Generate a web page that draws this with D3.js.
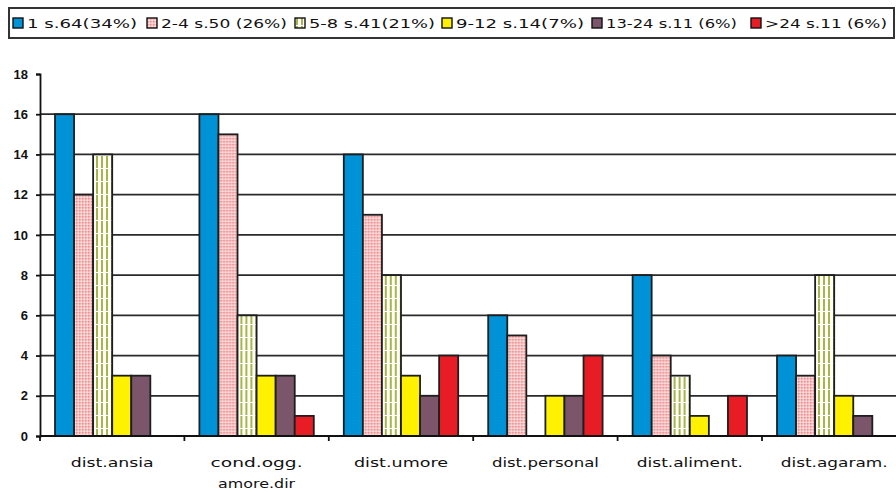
<!DOCTYPE html>
<html>
<head>
<meta charset="utf-8">
<script src="https://cdn.jsdelivr.net/npm/d3@7"></script>
<style>
  body { margin: 0; background: #fff; }
  svg { display: block; font-family: "DejaVu Sans", "Liberation Sans", Arial, sans-serif; }
</style>
</head>
<body>
<svg id="chart" width="896" height="491"></svg>
<script>
// dati
const categories = ["dist.ansia", "cond.ogg.|amore.dir", "dist.umore", "dist.personal", "dist.aliment.", "dist.agaram."];
const series = ["1 s.64(34%)", "2-4 s.50 (26%)", "5-8 s.41(21%)", "9-12 s.14(7%)", "13-24 s.11 (6%)", ">24 s.11 (6%)"];
const s1 = [16, 16, 14, 6, 8, 4];
const s2 = [12, 15, 11, 5, 4, 3];
const s3 = [14, 6, 8, 0, 3, 8];
const s4 = [3, 3, 3, 2, 1, 2];
const s5 = [3, 3, 2, 2, 0, 1];
const s6 = [0, 1, 4, 4, 2, 0];
const values = [s1, s2, s3, s4, s5, s6];
const yTicks = [0, 2, 4, 6, 8, 10, 12, 14, 16, 18];

const fills = ["#0092d6", "url(#pinkDots)", "url(#greenStripes)", "#fff200", "#7b5569", "#e81c24"];

const svg = d3.select("#chart");

// pattern
const defs = svg.append("defs");
const pink = defs.append("pattern")
  .attr("id", "pinkDots").attr("patternUnits", "userSpaceOnUse")
  .attr("width", 3).attr("height", 3);
pink.append("rect").attr("width", 3).attr("height", 3).attr("fill", "#f5c4c4");
pink.append("rect").attr("width", 1.5).attr("height", 1.5).attr("fill", "#ee8e8e");
pink.append("rect").attr("x", 1.5).attr("y", 1.5).attr("width", 1.5).attr("height", 1.5).attr("fill", "#fbe0e0");

const green = defs.append("pattern")
  .attr("id", "greenStripes").attr("patternUnits", "userSpaceOnUse")
  .attr("width", 5).attr("height", 13);
green.append("rect").attr("width", 5).attr("height", 13).attr("fill", "#ffffff");
green.append("rect").attr("x", 1).attr("width", 2).attr("height", 12).attr("fill", "#a9b545");

// scale
const x0 = d3.scaleBand().domain(d3.range(categories.length)).range([40, 40 + 6 * 144.4]).paddingInner(0).paddingOuter(0);
const x1 = d3.scaleBand().domain(d3.range(series.length)).range([15, 144.4 - 15]);
const y = d3.scaleLinear().domain([0, 18]).range([436, 74]);

// griglia
svg.append("g")
  .selectAll("line")
  .data(yTicks.filter(d => d > 0 && d < 18))
  .join("line")
  .attr("x1", 40).attr("x2", 896)
  .attr("y1", d => y(d)).attr("y2", d => y(d))
  .attr("stroke", "#2a2a2a").attr("stroke-width", 1.8);

// barre
const groups = svg.append("g")
  .selectAll("g")
  .data(categories)
  .join("g")
  .attr("transform", (d, i) => `translate(${x0(i)},0)`);

groups.selectAll("rect")
  .data((d, i) => values.map((v, s) => ({ s: s, v: v[i] })))
  .join("rect")
  .filter(d => d.v > 0)
  .attr("x", d => x1(d.s))
  .attr("y", d => y(d.v))
  .attr("width", x1.bandwidth())
  .attr("height", d => y(0) - y(d.v))
  .attr("fill", d => fills[d.s])
  .attr("stroke", "#1e1e1e")
  .attr("stroke-width", 1.8);

// assi
const yAxis = d3.axisLeft(y).tickValues(yTicks).tickSize(4).tickPadding(8);
const gy = svg.append("g").attr("transform", "translate(40,0)").call(yAxis);
gy.select(".domain").attr("stroke", "#111").attr("stroke-width", 1.8);
gy.selectAll(".tick line").attr("stroke", "#111").attr("stroke-width", 1.8);
gy.selectAll("text").attr("font-size", 13).attr("fill", "#111").attr("font-family", "Liberation Sans, Arial, sans-serif").attr("font-weight", "bold");

const gx = svg.append("g").attr("transform", "translate(0,436)");
gx.append("line").attr("x1", 40).attr("x2", 896).attr("stroke", "#111").attr("stroke-width", 1.8);
gx.selectAll(".tk")
  .data(d3.range(categories.length + 1))
  .join("line")
  .attr("class", "tk")
  .attr("x1", d => 40 + d * x0.bandwidth()).attr("x2", d => 40 + d * x0.bandwidth())
  .attr("y1", 0).attr("y2", 5)
  .attr("stroke", "#111").attr("stroke-width", 1.8);

// larghezze delle etichette
const labW = [[83], [92, 77], [94], [107], [106], [107]];
const labels = svg.append("g")
  .selectAll("text")
  .data(categories)
  .join("text")
  .attr("x", (d, i) => x0(i) + x0.bandwidth() / 2)
  .attr("y", 467)
  .attr("text-anchor", "middle")
  .attr("font-size", 13)
  .attr("fill", "#111");
labels.each(function (d, i) {
  const parts = d.split("|");
  const t = d3.select(this);
  parts.forEach((p, k) => {
    t.append("tspan")
      .attr("x", x0(i) + x0.bandwidth() / 2)
      .attr("y", 467 + k * 21)
      .attr("textLength", labW[i][k])
      .attr("lengthAdjust", "spacingAndGlyphs")
      .text(p);
  });
});

// legenda
const legend = svg.append("g");
legend.append("rect")
  .attr("x", 9).attr("y", 8).attr("width", 885).attr("height", 30)
  .attr("fill", "#fff").attr("stroke", "#333").attr("stroke-width", 2);
const legX = [13, 147, 295, 442, 592, 751];
const legW = [110, 126, 126, 128, 131, 122];
const items = legend.selectAll("g")
  .data(series)
  .join("g")
  .attr("transform", (d, i) => `translate(${legX[i]},0)`);
items.append("rect")
  .attr("x", 0).attr("y", 18).attr("width", 10).attr("height", 10)
  .attr("fill", (d, i) => fills[i])
  .attr("stroke", "#111").attr("stroke-width", 1.4);
items.append("text")
  .attr("x", 14).attr("y", 28)
  .attr("font-size", 13)
  .attr("fill", "#111")
  .attr("textLength", (d, i) => legW[i])
  .attr("lengthAdjust", "spacingAndGlyphs")
  .text(d => d);
</script>
</body>
</html>
